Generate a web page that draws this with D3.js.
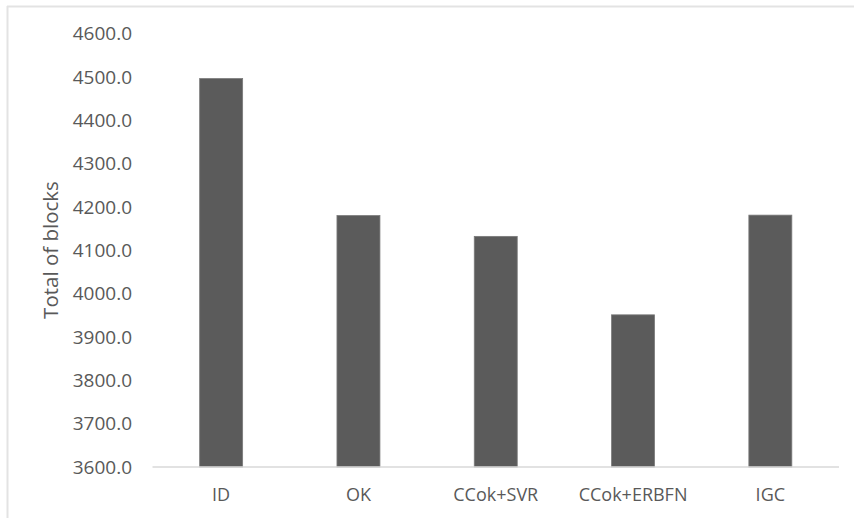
<!DOCTYPE html>
<html><head><meta charset="utf-8">
<script src="https://cdn.jsdelivr.net/npm/d3@7"></script>
<style>body{margin:0;background:#fff;}svg{display:block;}</style>
</head><body>
<svg id="c" width="854" height="518"></svg>
<script>
const categories = ["ID", "OK", "CCok+SVR", "CCok+ERBFN", "IGC"];
const values = [4496, 4180, 4132, 3951, 4181];
const yTicks = [3600, 3700, 3800, 3900, 4000, 4100, 4200, 4300, 4400, 4500, 4600];
const yTitle = "Total of blocks";

const svg = d3.select("#c");
const font = "'Open Sans', sans-serif";
const textColor = "#595959";

// chart border (top + left)
svg.append("line").attr("x1", 7).attr("x2", 854).attr("y1", 6.5).attr("y2", 6.5)
  .attr("stroke", "#e3e3e3").attr("stroke-width", 2);
svg.append("line").attr("x1", 7.5).attr("x2", 7.5).attr("y1", 6).attr("y2", 518)
  .attr("stroke", "#e3e3e3").attr("stroke-width", 2);

const x = d3.scaleBand().domain(categories).range([152.5, 839])
  .paddingInner(0.687).paddingOuter(0.3435);
const y = d3.scaleLinear().domain([3600, 4600]).range([467, 33.5]);

// bars
svg.append("g").selectAll("rect").data(categories).join("rect")
  .attr("x", d => x(d))
  .attr("width", x.bandwidth())
  .attr("y", (d, i) => y(values[i]))
  .attr("height", (d, i) => y(3600) - y(values[i]))
  .attr("fill", "#5b5b5b")
  .attr("stroke", "#7a7a7a").attr("stroke-width", 0.8);

// x axis line
svg.append("line").attr("x1", 152.5).attr("x2", 839)
  .attr("y1", y(3600)).attr("y2", y(3600))
  .attr("stroke", "#d9d9d9").attr("stroke-width", 1.5);

// y tick labels
svg.append("g").selectAll("text").data(yTicks).join("text")
  .attr("x", 132).attr("y", d => y(d))
  .attr("dy", "0.35em")
  .attr("text-anchor", "end")
  .attr("font-family", font).attr("font-size", 19)
  .attr("fill", textColor)
  .text(d => d3.format(".1f")(d));

// x labels
svg.append("g").selectAll("text").data(categories).join("text")
  .attr("x", d => x(d) + x.bandwidth() / 2).attr("y", 495)
  .attr("dy", "0.35em")
  .attr("text-anchor", "middle")
  .attr("font-family", font).attr("font-size", 18)
  .attr("fill", textColor)
  .text(d => d);

// y title
svg.append("text")
  .attr("transform", "translate(51,250) rotate(-90)")
  .attr("dy", "0.35em")
  .attr("text-anchor", "middle")
  .attr("font-family", font).attr("font-size", 20.5)
  .attr("fill", textColor)
  .text(yTitle);
</script>
</body></html>
